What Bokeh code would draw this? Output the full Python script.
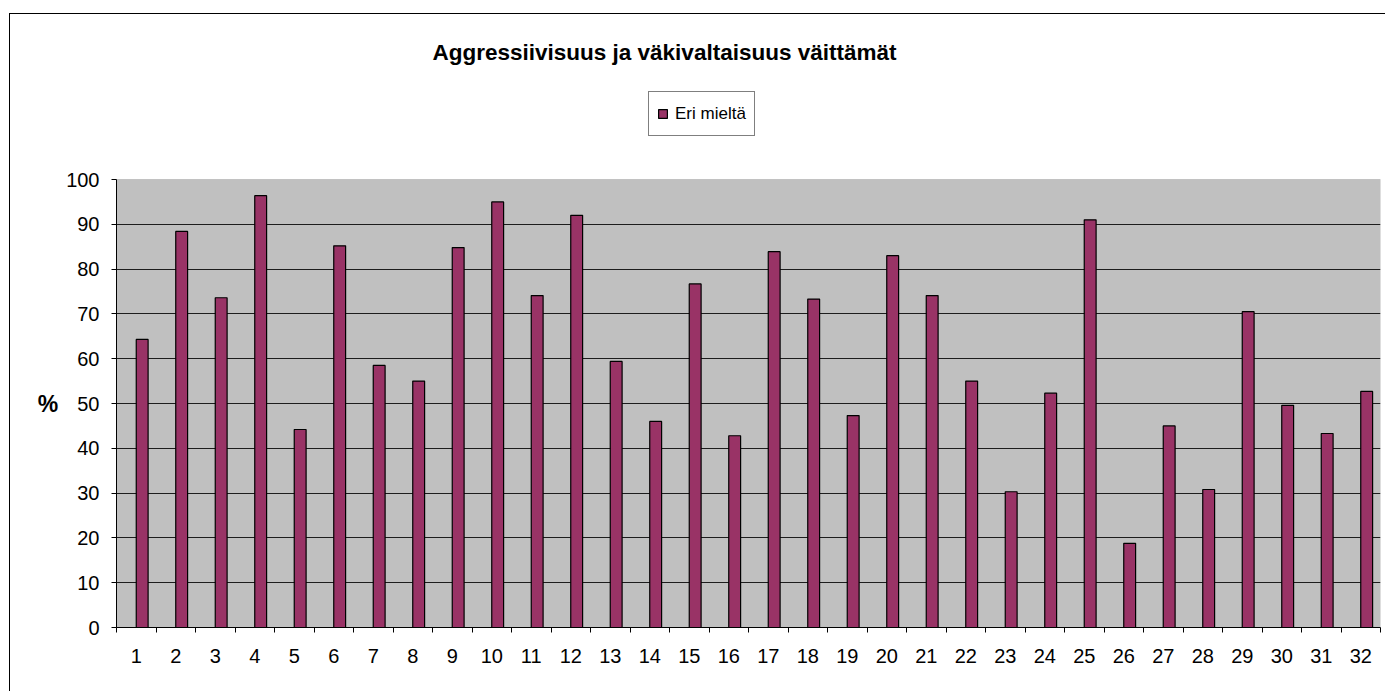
from bokeh.plotting import figure
from bokeh.models import (Range1d, FixedTicker, Legend, LegendItem, Title,
                          ColumnDataSource, BoxAnnotation)
from bokeh.transform import dodge
from bokeh.embed import file_html
from bokeh.resources import INLINE

# ---- data ----
categories = list(range(1, 33))
eri_mielta = [64.3, 88.4, 73.6, 96.4, 44.2, 85.2, 58.5, 55.0, 84.8, 95.0,
              74.1, 92.0, 59.4, 46.0, 76.7, 42.8, 83.9, 73.3, 47.3, 83.0,
              74.1, 55.0, 30.3, 52.3, 91.0, 18.8, 45.0, 30.8, 70.5, 49.6,
              43.3, 52.7]
y_ticks = [0, 10, 20, 30, 40, 50, 60, 70, 80, 90, 100]
title_text = "Aggressiivisuus ja väkivaltaisuus väittämät"
series_name = "Eri mieltä"
y_label = "%"

FONT = "Liberation Sans"

# layout (pixels, canvas coordinates)
W, H = 1376, 678
FRAME_TOP, PLOT_TOP, PLOT_BOTTOM = 72, 165, 613   # plot area 0..100 spans PLOT_TOP..PLOT_BOTTOM
y_min, y_plot_max = 0, 100
px_per_unit = (PLOT_BOTTOM - PLOT_TOP) / (y_plot_max - y_min)
y_frame_max = y_plot_max + (PLOT_TOP - FRAME_TOP) / px_per_unit
# the axis label is centred on the whole frame; shift it to the plot-area centre
label_shift = ((PLOT_TOP + PLOT_BOTTOM) / 2) - ((FRAME_TOP + PLOT_BOTTOM) / 2) - 5
LABEL_SIZE = 23

src = ColumnDataSource(data=dict(x=categories, val=eri_mielta))

p = figure(width=W, height=H, output_backend="svg", toolbar_location=None,
           x_range=Range1d(0.5, len(categories) + 0.5),
           y_range=Range1d(y_min, y_frame_max),
           min_border_left=106, min_border_right=6, min_border_top=FRAME_TOP,
           min_border_bottom=H - PLOT_BOTTOM)
p.margin = (13, 0, 0, 9)
p.styles = {"border-top": "1px solid black", "border-left": "1px solid black"}

p.background_fill_color = "white"
p.border_fill_color = "white"
p.outline_line_color = None

# grey plot area
plot_area = BoxAnnotation(bottom=y_min, top=y_plot_max, left=0.5, right=len(categories) + 0.5,
                          fill_color="#C0C0C0", fill_alpha=1,
                          line_color="#808080", line_width=1, level="image")
p.add_layout(plot_area)

r = p.vbar(x=dodge("x", 0.15, range=p.x_range), top="val", width=0.3, source=src,
           fill_color="#993366", line_color="black", line_width=1.2)

# x axis
xa = p.xaxis[0]
xa.ticker = FixedTicker(ticks=categories,
                        minor_ticks=[c - 0.5 for c in categories] + [len(categories) + 0.5])
xa.major_tick_out = 0
xa.major_tick_in = 0
xa.minor_tick_out = 5
xa.minor_tick_in = 0
xa.minor_tick_line_color = "black"
xa.axis_line_color = "black"
xa.major_label_text_font = FONT
xa.major_label_text_font_size = "20px"
xa.major_label_text_color = "black"
xa.major_label_standoff = 16

# y axis
ya = p.yaxis[0]
ya.ticker = FixedTicker(ticks=y_ticks)
ya.bounds = (y_min, y_plot_max)
ya.minor_tick_line_color = None
ya.major_tick_out = 5
ya.major_tick_in = 0
ya.major_tick_line_color = "black"
ya.axis_line_color = "black"
ya.major_label_text_font = FONT
ya.major_label_text_font_size = "20px"
ya.major_label_text_color = "black"
ya.major_label_standoff = 12
ya.axis_label = "\n" + y_label
ya.axis_label_orientation = "horizontal"
ya.axis_label_text_font = FONT
ya.axis_label_text_font_size = f"{LABEL_SIZE}px"
ya.axis_label_text_line_height = 2 * label_shift / LABEL_SIZE
ya.axis_label_text_font_style = "bold"
ya.axis_label_text_color = "black"
ya.axis_label_standoff = 5

# grid
p.xgrid.grid_line_color = None
p.ygrid.ticker = FixedTicker(ticks=[t for t in y_ticks if y_min < t < y_plot_max])
p.ygrid.grid_line_color = "black"
p.ygrid.grid_line_alpha = 0.85
p.ygrid.grid_line_width = 1

# legend
leg = Legend(items=[LegendItem(label=series_name, renderers=[r])],
             location=(532, 491), orientation="vertical",
             border_line_color="black", border_line_width=1,
             background_fill_color="white", background_fill_alpha=1,
             glyph_width=11, glyph_height=11, label_standoff=7,
             padding=8, margin=0, label_height=27,
             label_text_font=FONT, label_text_font_size="17px",
             label_text_color="black")
p.add_layout(leg, "center")

# title
p.title = Title(text=title_text, align="left", offset=316, standoff=44,
                text_font=FONT, text_font_size="22.5px", text_font_style="bold",
                text_color="black")

open("out.html", "w").write(file_html(p, INLINE))
